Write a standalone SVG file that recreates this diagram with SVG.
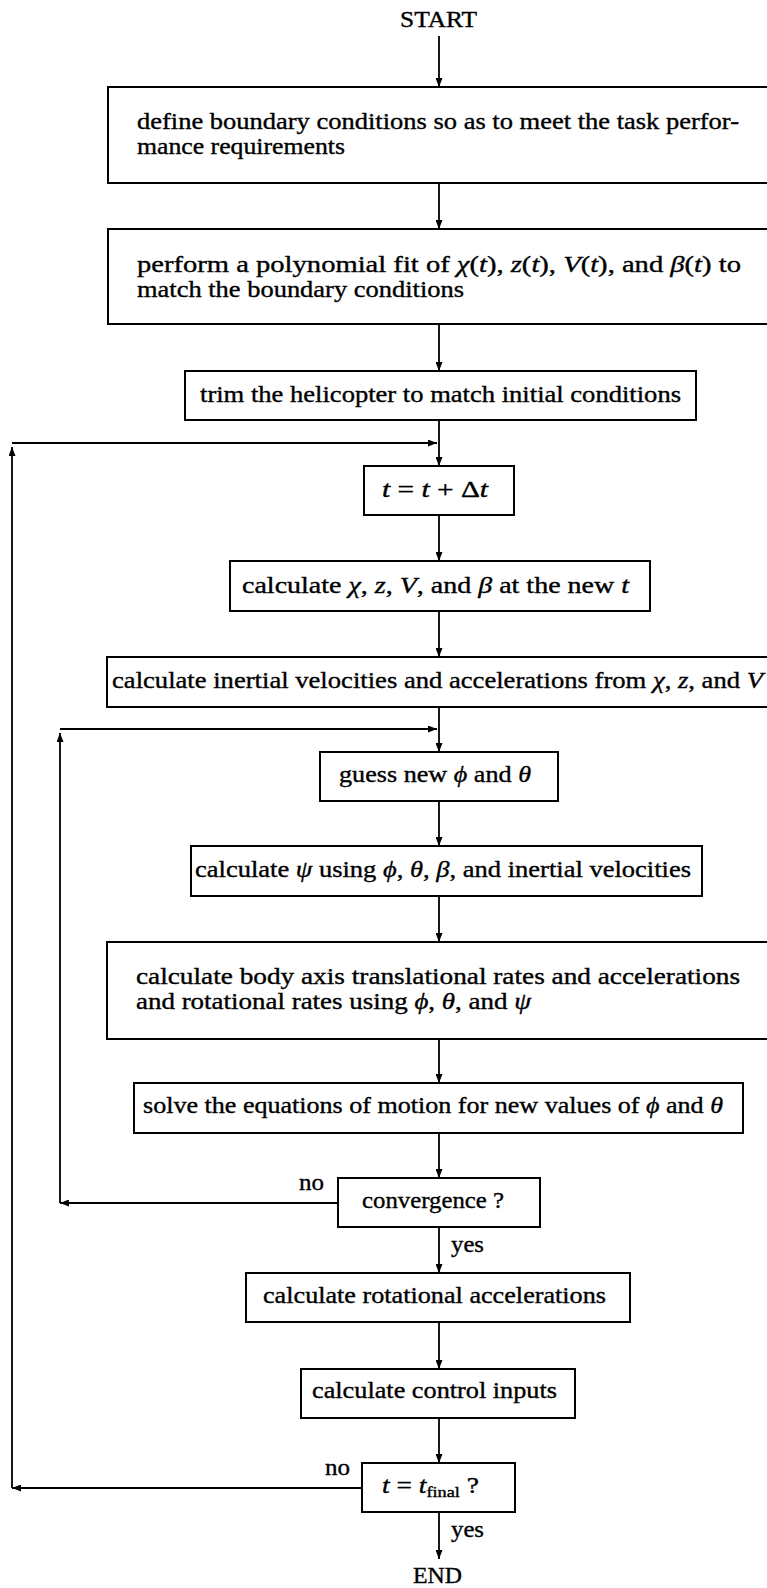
<svg xmlns="http://www.w3.org/2000/svg" width="767" height="1588" viewBox="0 0 767 1588">
<style>
.box{fill:#fff;stroke:#000;stroke-width:2}
.c{fill:none;stroke:#000;stroke-width:1.8}
text{font-family:"Liberation Serif","DejaVu Serif",serif;font-size:22.5px;fill:#000;stroke:#000;stroke-width:0.35}
.i{font-style:italic}
</style>
<defs>
<marker id="ah" markerUnits="userSpaceOnUse" markerWidth="9" markerHeight="7" refX="9" refY="3.5" orient="auto">
<path d="M0,0 L9,3.5 L0,7 z" fill="#000"/>
</marker>
</defs>
<rect width="767" height="1588" fill="#fff"/>
<g id="connectors">
<line class="c" x1="439" y1="36" x2="439" y2="87" marker-end="url(#ah)"/>
<line class="c" x1="439" y1="183" x2="439" y2="229" marker-end="url(#ah)"/>
<line class="c" x1="439" y1="324" x2="439" y2="371" marker-end="url(#ah)"/>
<line class="c" x1="439" y1="420" x2="439" y2="466" marker-end="url(#ah)"/>
<line class="c" x1="439" y1="515" x2="439" y2="561" marker-end="url(#ah)"/>
<line class="c" x1="439" y1="611" x2="439" y2="657" marker-end="url(#ah)"/>
<line class="c" x1="439" y1="707" x2="439" y2="752" marker-end="url(#ah)"/>
<line class="c" x1="439" y1="801" x2="439" y2="846" marker-end="url(#ah)"/>
<line class="c" x1="439" y1="896" x2="439" y2="942" marker-end="url(#ah)"/>
<line class="c" x1="439" y1="1039" x2="439" y2="1083" marker-end="url(#ah)"/>
<line class="c" x1="439" y1="1133" x2="439" y2="1178" marker-end="url(#ah)"/>
<line class="c" x1="439" y1="1227" x2="439" y2="1273" marker-end="url(#ah)"/>
<line class="c" x1="439" y1="1322" x2="439" y2="1369" marker-end="url(#ah)"/>
<line class="c" x1="439" y1="1418" x2="439" y2="1463" marker-end="url(#ah)"/>
<line class="c" x1="439" y1="1512" x2="439" y2="1559" marker-end="url(#ah)"/>
<line class="c" x1="338" y1="1203" x2="60" y2="1203" marker-end="url(#ah)"/>
<line class="c" x1="60" y1="1203" x2="60" y2="733" marker-end="url(#ah)"/>
<line class="c" x1="60" y1="729" x2="437" y2="729" marker-end="url(#ah)"/>
<line class="c" x1="362" y1="1488" x2="12" y2="1488" marker-end="url(#ah)"/>
<line class="c" x1="12" y1="1488" x2="12" y2="447" marker-end="url(#ah)"/>
<line class="c" x1="12" y1="443" x2="437" y2="443" marker-end="url(#ah)"/>
<text x="299" y="1190" textLength="25" lengthAdjust="spacingAndGlyphs">no</text>
<text x="451" y="1252" textLength="33" lengthAdjust="spacingAndGlyphs">yes</text>
<text x="325" y="1475" textLength="25" lengthAdjust="spacingAndGlyphs">no</text>
<text x="451" y="1537" textLength="33" lengthAdjust="spacingAndGlyphs">yes</text>
</g>
<g id="start"><text x="400" y="27" textLength="77" lengthAdjust="spacingAndGlyphs">START</text></g>
<g id="n1">
<rect class="box" x="108" y="87" width="662" height="96"/>
<text x="137" y="129" textLength="602" lengthAdjust="spacingAndGlyphs">define boundary conditions so as to meet the task perfor-</text>
<text x="137" y="154" textLength="208" lengthAdjust="spacingAndGlyphs">mance requirements</text>
</g>
<g id="n2">
<rect class="box" x="108" y="229" width="662" height="95"/>
<text x="137" y="272" textLength="604" lengthAdjust="spacingAndGlyphs">perform a polynomial fit of <tspan class="i">χ</tspan>(<tspan class="i">t</tspan>), <tspan class="i">z</tspan>(<tspan class="i">t</tspan>), <tspan class="i">V</tspan>(<tspan class="i">t</tspan>), and <tspan class="i">β</tspan>(<tspan class="i">t</tspan>) to</text>
<text x="137" y="297" textLength="327" lengthAdjust="spacingAndGlyphs">match the boundary conditions</text>
</g>
<g id="n3">
<rect class="box" x="185" y="371" width="511" height="49"/>
<text x="200" y="402" textLength="481" lengthAdjust="spacingAndGlyphs">trim the helicopter to match initial conditions</text>
</g>
<g id="n4">
<rect class="box" x="364" y="466" width="150" height="49"/>
<text x="382" y="497" textLength="106" lengthAdjust="spacingAndGlyphs"><tspan class="i">t</tspan> = <tspan class="i">t</tspan> + Δ<tspan class="i">t</tspan></text>
</g>
<g id="n5">
<rect class="box" x="230" y="561" width="420" height="50"/>
<text x="242" y="593" textLength="387" lengthAdjust="spacingAndGlyphs">calculate <tspan class="i">χ</tspan>, <tspan class="i">z</tspan>, <tspan class="i">V</tspan>, and <tspan class="i">β</tspan> at the new <tspan class="i">t</tspan></text>
</g>
<g id="n6">
<rect class="box" x="107" y="657" width="663" height="50"/>
<text x="112" y="688" textLength="651" lengthAdjust="spacingAndGlyphs">calculate inertial velocities and accelerations from <tspan class="i">χ</tspan>, <tspan class="i">z</tspan>, and <tspan class="i">V</tspan></text>
</g>
<g id="n7">
<rect class="box" x="320" y="752" width="238" height="49"/>
<text x="339" y="782" textLength="192" lengthAdjust="spacingAndGlyphs">guess new <tspan class="i">ϕ</tspan> and <tspan class="i">θ</tspan></text>
</g>
<g id="n8">
<rect class="box" x="191" y="846" width="511" height="50"/>
<text x="195" y="877" textLength="496" lengthAdjust="spacingAndGlyphs">calculate <tspan class="i">ψ</tspan> using <tspan class="i">ϕ</tspan>, <tspan class="i">θ</tspan>, <tspan class="i">β</tspan>, and inertial velocities</text>
</g>
<g id="n9">
<rect class="box" x="107" y="942" width="663" height="97"/>
<text x="136" y="984" textLength="604" lengthAdjust="spacingAndGlyphs">calculate body axis translational rates and accelerations</text>
<text x="136" y="1009" textLength="395" lengthAdjust="spacingAndGlyphs">and rotational rates using <tspan class="i">ϕ</tspan>, <tspan class="i">θ</tspan>, and <tspan class="i">ψ</tspan></text>
</g>
<g id="n10">
<rect class="box" x="134" y="1083" width="609" height="50"/>
<text x="143" y="1113" textLength="580" lengthAdjust="spacingAndGlyphs">solve the equations of motion for new values of <tspan class="i">ϕ</tspan> and <tspan class="i">θ</tspan></text>
</g>
<g id="n11">
<rect class="box" x="338" y="1178" width="202" height="49"/>
<text x="362" y="1208" textLength="142" lengthAdjust="spacingAndGlyphs">convergence ?</text>
</g>
<g id="n12">
<rect class="box" x="246" y="1273" width="384" height="49"/>
<text x="263" y="1303" textLength="343" lengthAdjust="spacingAndGlyphs">calculate rotational accelerations</text>
</g>
<g id="n13">
<rect class="box" x="301" y="1369" width="274" height="49"/>
<text x="312" y="1398" textLength="245" lengthAdjust="spacingAndGlyphs">calculate control inputs</text>
</g>
<g id="n14">
<rect class="box" x="362" y="1463" width="153" height="49"/>
<text x="382" y="1493" textLength="97" lengthAdjust="spacingAndGlyphs"><tspan class="i">t</tspan> = <tspan class="i">t</tspan><tspan font-size="15" dy="4">final</tspan><tspan dy="-4"> ?</tspan></text>
</g>
<g id="end"><text x="413" y="1583" textLength="49" lengthAdjust="spacingAndGlyphs">END</text></g>
</svg>
